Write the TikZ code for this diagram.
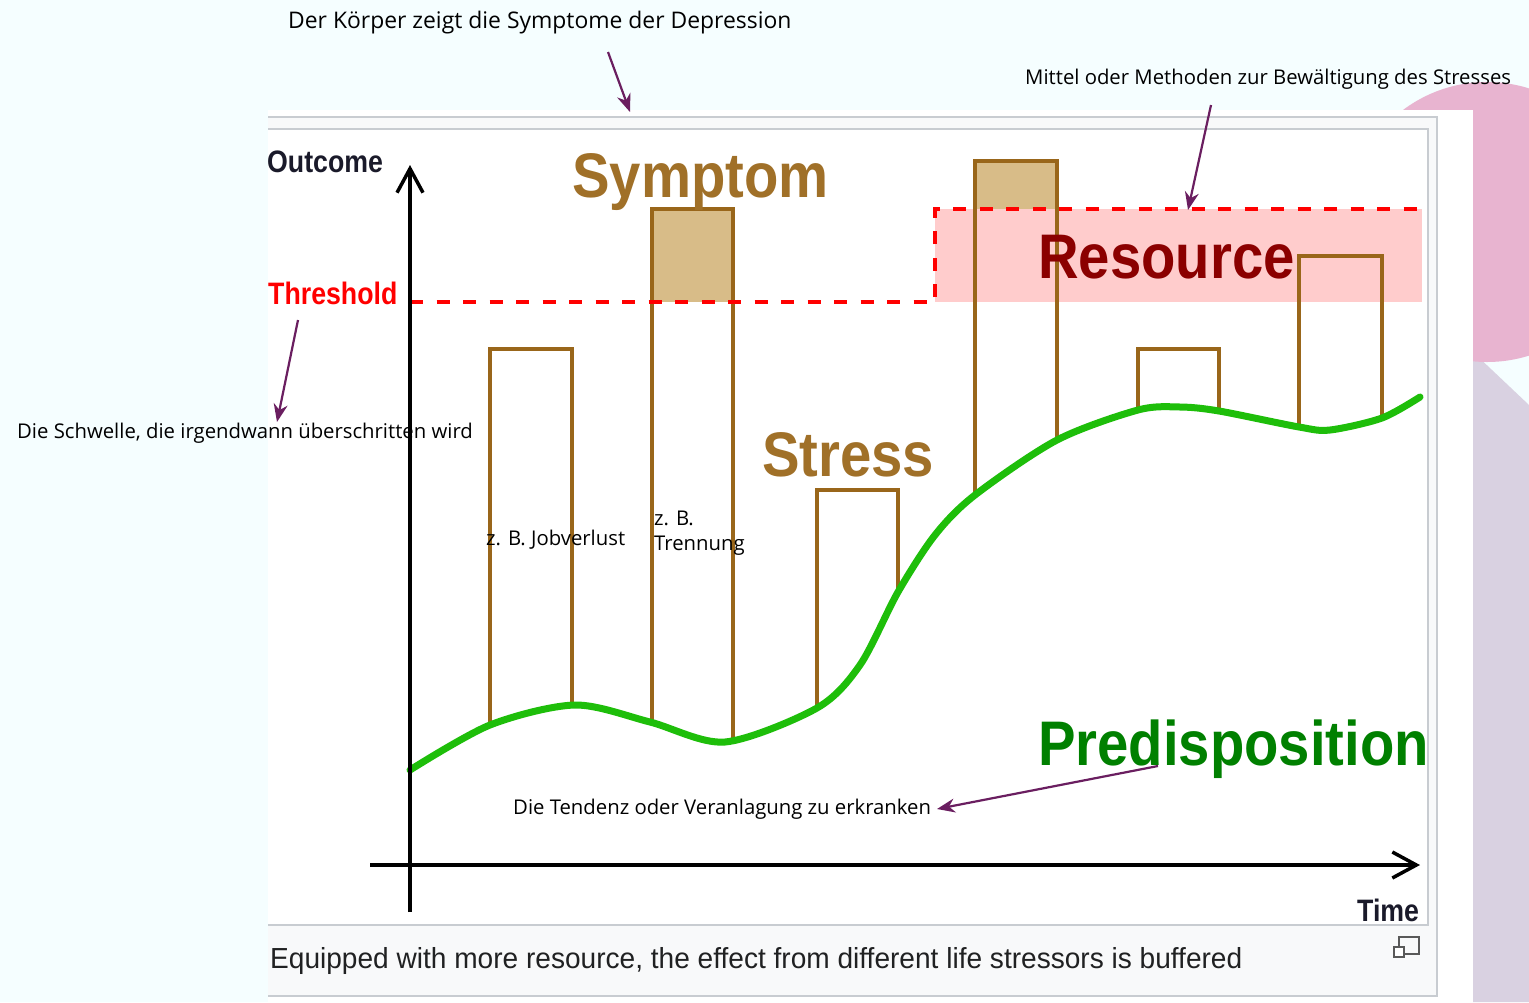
\documentclass[tikz,border=0pt]{standalone}
\usepackage{fontspec}
\usepackage{graphicx}
\setmainfont{Liberation Sans}
\newfontfamily\annfont{Open Sans}
\usetikzlibrary{arrows.meta}
\definecolor{bgcyan}{RGB}{245,254,255}
\definecolor{lav}{RGB}{217,209,225}
\definecolor{pinkc}{RGB}{232,180,208}
\definecolor{framegray}{RGB}{200,204,209}
\definecolor{capbg}{RGB}{248,249,250}
\definecolor{captext}{RGB}{32,33,34}
\definecolor{brownT}{RGB}{160,112,40}
\definecolor{barline}{RGB}{153,102,26}
\definecolor{tan}{RGB}{216,188,136}
\definecolor{curvegreen}{RGB}{30,190,10}
\definecolor{predgreen}{RGB}{0,128,0}
\definecolor{resred}{RGB}{139,0,0}
\definecolor{respink}{RGB}{255,204,204}
\definecolor{purp}{RGB}{106,30,96}
\definecolor{darklab}{RGB}{26,26,42}
\newcommand\sq[1]{\scalebox{0.893}[1]{#1}}
\newcommand\sqs[1]{\scalebox{0.862}[1]{#1}}
\tikzset{
  lab/.style={inner sep=0pt, anchor=base west, font=\bfseries\fontsize{63}{63}\selectfont},
  smalllab/.style={inner sep=0pt, anchor=base west, font=\bfseries\fontsize{31}{31}\selectfont},
  ann/.style={inner sep=0pt, anchor=base west, text=black, font=\annfont\fontsize{20.3}{25}\selectfont},
  annarrow/.style={draw=purp, line width=2.2pt, -{Stealth[length=18pt,width=14pt]}},
  barbox/.style={draw=barline, line width=3.2pt},
  axis/.style={draw=black, line width=3.5pt, -{Straight Barb[length=24pt,width=26pt]}},
  thresh/.style={draw=red, line width=4.5pt, dash pattern=on 13pt off 13.5pt},
}
\begin{document}
\begin{tikzpicture}[x=1pt,y=-1pt]
\useasboundingbox (0,0) rectangle (1529,1002);
% background
\fill[bgcyan] (0,0) rectangle (1529,1002);
\fill[lav] (1473,352) -- (1529,405) -- (1529,1002) -- (1473,1002) -- cycle;
\fill[pinkc] (1487,222) circle[radius=140];
\fill[white] (268,110) rectangle (1473,1002);
% frame
\fill[capbg] (268,117) rectangle (1437,996);
\draw[framegray, line width=1.5pt] (268,117) -- (1437,117) -- (1437,996) -- (268,996);
\fill[white] (268,129) rectangle (1428,925);
\draw[framegray, line width=1.5pt] (268,129) -- (1428,129) -- (1428,925) -- (268,925);
% resource region
\fill[respink] (935,209) rectangle (1422,302);
% bars clipped above the curve
\def\curvepts{(410,770) (490,725) (575,705) (650,722) (725,742) (817,708) (860,665) (898,592) (935,535) (975,495) (1057,440) (1138,410) (1180,407) (1219,411) (1299,427) (1330,430) (1382,418) (1420,397)}
\begin{scope}
\clip plot[smooth] coordinates {\curvepts} -- (1430,100) -- (400,100) -- cycle;
\fill[tan] (652,209) rectangle (733,302);
\fill[tan] (975,161) rectangle (1057,209);
\draw[barbox] (490,349) rectangle (572,800);
\draw[barbox] (652,209) rectangle (733,800);
\draw[barbox] (817,490) rectangle (898,800);
\draw[barbox] (975,161) rectangle (1057,800);
\draw[barbox] (1138,349) rectangle (1219,800);
\draw[barbox] (1299,256) rectangle (1382,800);
\end{scope}
% threshold dashed line
\draw[thresh] (410,302) -- (935,302) -- (935,209) -- (1422,209);
% green curve
\draw[curvegreen, line width=7pt, line cap=round] plot[smooth] coordinates {\curvepts};
% axes
\coordinate (yb) at (410,912);
\coordinate (yt) at (410,165);
\coordinate (xl) at (370,865);
\coordinate (xr) at (1420,865);
\draw[axis] (yb) -- (yt);
\draw[axis] (xl) -- (xr);
% chart labels
\node[smalllab, text=darklab] (outcome) at (267,172) {\sqs{Outcome}};
\node[smalllab, text=red] (threshold) at (268,304) {\sqs{Threshold}};
\node[smalllab, text=darklab] (time) at (1357,921) {\sqs{Time}};
\node[lab, text=brownT] (symptom) at (572,197) {\sq{Symptom}};
\node[lab, text=brownT] (stress) at (762,476) {\sq{Stress}};
\node[lab, text=resred] (resource) at (1038,278) {\sq{Resource}};
\node[lab, text=predgreen] (predisp) at (1038,765) {\sq{Predisposition}};
% caption
\node[inner sep=0pt, anchor=base west, text=captext, font=\fontsize{29}{29}\selectfont] (caption) at (270,968) {\scalebox{0.968}[1]{Equipped with more resource, the effect from different life stressors is buffered}};
% icon
\draw[black!65, line width=2pt] (1399,937) rectangle (1419,954);
\draw[black!65, line width=2pt, fill=white] (1394,947) rectangle (1404,957);
% annotations
\node[ann, font=\annfont\fontsize{22.9}{27}\selectfont] (koerper) at (288,28) {Der Körper zeigt die Symptome der Depression};
\node[ann] (mittel) at (1025,84) {Mittel oder Methoden zur Bewältigung des Stresses};
\node[ann] (schwelle) at (17,438) {Die Schwelle, die irgendwann überschritten wird};
\node[ann] (jobverlust) at (486,545) {z. B. Jobverlust};
\node[ann] (zb) at (654,525) {z. B.};
\node[ann] (trennung) at (654,550) {Trennung};
\node[ann] (tendenz) at (513,814) {Die Tendenz oder Veranlagung zu erkranken};
\coordinate (a1s) at (608,52);
\coordinate (a1e) at (630,112);
\coordinate (a2s) at (1211,105);
\coordinate (a2e) at (1188,210);
\coordinate (a3s) at (298,320);
\coordinate (a3e) at (277,422);
\coordinate (a4s) at (1158,766);
\coordinate (a4e) at (937,809);
\draw[annarrow] (a1s) -- (a1e);
\draw[annarrow] (a2s) -- (a2e);
\draw[annarrow] (a3s) -- (a3e);
\draw[annarrow] (a4s) -- (a4e);
\end{tikzpicture}
\end{document}
